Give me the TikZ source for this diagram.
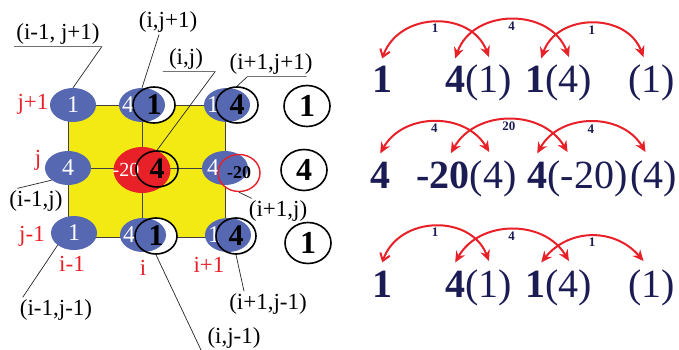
\documentclass[tikz,border=0pt]{standalone}
\usepackage{fontspec}
\setmainfont{Liberation Serif}
\usetikzlibrary{arrows.meta,positioning,shapes.geometric}
\definecolor{blobblue}{RGB}{86,104,178}
\definecolor{hotred}{RGB}{232,32,40}
\definecolor{lemon}{RGB}{242,234,18}
\definecolor{navy}{RGB}{28,28,84}

\begin{document}
\begin{tikzpicture}[x=1pt,y=1pt,
  blob/.style={ellipse,fill=blobblue,minimum width=46pt,minimum height=34pt,inner sep=0pt},
  redblob/.style={ellipse,fill=hotred,minimum width=57pt,minimum height=46pt,inner sep=0pt},
  hole/.style={ellipse,fill=white,minimum width=42pt,minimum height=36pt,inner sep=0pt},
  ring/.style={ellipse,draw=black,line width=1.6pt,minimum width=42pt,minimum height=36pt,inner sep=0pt,font=\fontsize{30}{30}\selectfont\bfseries},
  redring/.style={ring,draw=hotred,line width=1.4pt,font=\fontsize{18}{18}\selectfont\bfseries},
  bigring/.style={ring,minimum width=46pt,minimum height=41pt,font=\fontsize{32}{32}\selectfont\bfseries},
  wnum/.style={text=white,inner sep=0pt,font=\fontsize{24}{24}\selectfont},
  tag/.style={inner sep=2pt,font=\fontsize{23}{23}\selectfont},
  idx/.style={text=hotred,inner sep=0pt,font=\fontsize{23}{23}\selectfont},
  leader/.style={draw=black!85,line width=0.7pt},
  gridline/.style={draw=black!75,line width=0.9pt},
  num/.style={text=navy,inner xsep=0pt,inner ysep=8pt,font=\fontsize{40}{40}\selectfont\bfseries},
  par/.style={text=navy,inner xsep=0pt,inner ysep=8pt,font=\fontsize{40}{40}\selectfont},
  hop/.style={draw=hotred,line width=2pt},
  hoplab/.style={anchor=north,inner sep=1pt,text=navy,font=\fontsize{13}{13}\selectfont\bfseries}]
\useasboundingbox (0,0) rectangle (679,-350);

% stencil
\fill[lemon] (68,-105) rectangle (225,-237);
\draw[gridline] (68,-105) rectangle (225,-237);
\draw[gridline] (142,-105) -- (142,-237);
\draw[gridline] (68,-168) -- (225,-168);

% row j+1
\node[blob] (b11) at (73,-105) {};
\node[wnum] (w11) at (b11) {1};
\node[hole] (h12) at (154,-105) {};
\node[blob] (b12) at (142,-105) {};
\node[wnum] (w12) at ([xshift=-14pt]b12.center) {4};
\node[ring] (r12) at (h12) {1};
\node[hole] (h13) at (237,-105) {};
\node[blob] (b13) at (227,-105) {};
\node[wnum] (w13) at ([xshift=-14pt]b13.center) {1};
\node[ring] (r13) at (h13) {4};

% row j
\node[blob] (b21) at (68,-168) {};
\node[wnum] (w21) at (b21) {4};
\node[redblob] (c22) at (142,-170) {};
\node[wnum,font=\fontsize{20}{20}\selectfont] (w22) at ([xshift=-16pt]c22.center) {-20};
\node[ring] (r22) at (157,-169) {4};
\node[hole,minimum height=37pt] (h23) at (239,-173) {};
\node[blob] (b23) at (225,-168) {};
\node[wnum] (w23) at ([xshift=-12pt]b23.center) {4};
\node[redring,minimum height=37pt] (r23) at (h23) {-20};

% row j-1
\node[blob] (b31) at (74,-233) {};
\node[wnum] (w31) at (b31) {1};
\node[hole] (h32) at (156,-236) {};
\node[blob] (b32) at (143,-235) {};
\node[wnum] (w32) at ([xshift=-14pt]b32.center) {4};
\node[ring] (r32) at (h32) {1};
\node[hole,minimum width=40pt] (h33) at (236,-236) {};
\node[blob] (b33) at (228,-235) {};
\node[wnum] (w33) at ([xshift=-14pt]b33.center) {1};
\node[ring,minimum width=40pt] (r33) at (h33) {4};

% column of weights
\node[bigring] (s1) at (307,-106) {1};
\node[bigring] (s2) at (304,-170) {4};
\node[bigring] (s3) at (308,-243) {1};

% indices
\node[idx] (jp) at (33,-104) {j+1};
\node[idx] (j0) at (38,-160) {j};
\node[idx] (jm) at (32,-236) {j-1};
\node[idx] (im) at (72,-264) {i-1};
\node[idx] (i0) at (143,-268) {i};
\node[idx] (ip) at (209,-265) {i+1};

% cell names
\node[tag] (lA) at (58,-34) {(i-1, j+1)};
\node[tag] (lB) at (168,-22) {(i,j+1)};
\node[tag] (lC) at (186,-59) {(i,j)};
\node[tag] (lD) at (271,-64) {(i+1,j+1)};
\node[tag] (lE) at (36,-201) {(i-1,j)};
\node[tag] (lF) at (278,-211) {(i+1,j)};
\node[tag] (lG) at (56,-310) {(i-1,j-1)};
\node[tag] (lH) at (268,-304) {(i+1,j-1)};
\node[tag] (lI) at (234,-338) {(i,j-1)};
\coordinate (eI) at (201,-350);

\draw[leader] (lA.south west) -- (lA.south east) -- (b11.north);
\draw[leader] ([xshift=-9pt]lB.south) -- (b12.north);
\draw[leader] ([xshift=-4pt]lC.south west) -- ([xshift=10pt]lC.south east) -- (r22.north);
\draw[leader] ([xshift=-8pt]lD.south east) -- ([xshift=20pt]lD.south west) -- (r13.north);
\draw[leader] ([xshift=10pt]lE.north west) -- (b21.south west);
\draw[leader] (r23.south) -- ([xshift=5pt]lF.north west);
\draw[leader] (b31.south west) -- ([xshift=5pt]lG.north west);
\draw[leader] (r33.south) -- ([xshift=17pt]lH.north west);
\draw[leader] (r32.south) -- (eI);

% row 1
\node[num,anchor=base west] (n11) at (372,-93) {1};
\node[num,anchor=base west] (n12) at (445,-93) {4};
\node[par,base right=0pt of n12] (p12) {(1)};
\node[num,anchor=base west] (n13) at (525,-93) {1};
\node[par,base right=0pt of n13] (p13) {(4)};
\node[par,anchor=base west] (p14) at (628,-93) {(1)};
\draw[hop,{Straight Barb[length=7pt,width=10pt]}-{Stealth[length=11pt,width=10pt]}] (n11.north) to[bend left=70,looseness=1.2] node[hoplab] {1} (p12.north);
\draw[hop,{Stealth[length=11pt,width=10pt]}-{Stealth[length=11pt,width=10pt]}] (n12.north) to[bend left=70,looseness=1.2] node[hoplab] {4} (p13.north);
\draw[hop,{Stealth[length=11pt,width=10pt]}-{Stealth[length=11pt,width=10pt]}] ([xshift=6pt]n13.north) to[bend left=70,looseness=1.2] node[hoplab] {1} ([xshift=-8pt]p14.north);

% row 2
\node[num,anchor=base west] (n21) at (370,-188) {4};
\node[num,anchor=base west] (n22) at (416,-188) {-20};
\node[par,base right=0pt of n22] (p22) {(4)};
\node[num,anchor=base west] (n23) at (527,-188) {4};
\node[par,base right=0pt of n23] (p23) {(-20)};
\node[par,anchor=base west] (p24) at (630,-188) {(4)};
\draw[hop,{Stealth[length=11pt,width=10pt]}-{Stealth[length=11pt,width=10pt]}] (n21.north) to[bend left=60,looseness=1.1] node[hoplab] {4} ([xshift=-4pt]p22.north);
\draw[hop,{Stealth[length=11pt,width=10pt]}-{Stealth[length=11pt,width=10pt]}] ([xshift=8pt]n22.north) to[bend left=60,looseness=1.1] node[hoplab] {20} ([xshift=-20pt]p23.north);
\draw[hop,{Stealth[length=11pt,width=10pt]}-{Stealth[length=11pt,width=10pt]}] (n23.north) to[bend left=60,looseness=1.1] node[hoplab] {4} ([xshift=-8pt]p24.north);

% row 3
\node[num,anchor=base west] (n31) at (372,-297) {1};
\node[num,anchor=base west] (n32) at (445,-297) {4};
\node[par,base right=0pt of n32] (p32) {(1)};
\node[num,anchor=base west] (n33) at (525,-297) {1};
\node[par,base right=0pt of n33] (p33) {(4)};
\node[par,anchor=base west] (p34) at (628,-297) {(1)};
\draw[hop,{Straight Barb[length=7pt,width=10pt]}-{Stealth[length=11pt,width=10pt]}] (n31.north) to[bend left=70,looseness=1.2] node[hoplab] {1} (p32.north);
\draw[hop,{Stealth[length=11pt,width=10pt]}-{Stealth[length=11pt,width=10pt]}] (n32.north) to[bend left=60,looseness=1.1] node[hoplab] {4} (p33.north);
\draw[hop,{Stealth[length=11pt,width=10pt]}-{Stealth[length=11pt,width=10pt]}] ([xshift=6pt]n33.north) to[bend left=50,looseness=1.1] node[hoplab] {1} ([xshift=-8pt]p34.north);
\end{tikzpicture}
\end{document}
